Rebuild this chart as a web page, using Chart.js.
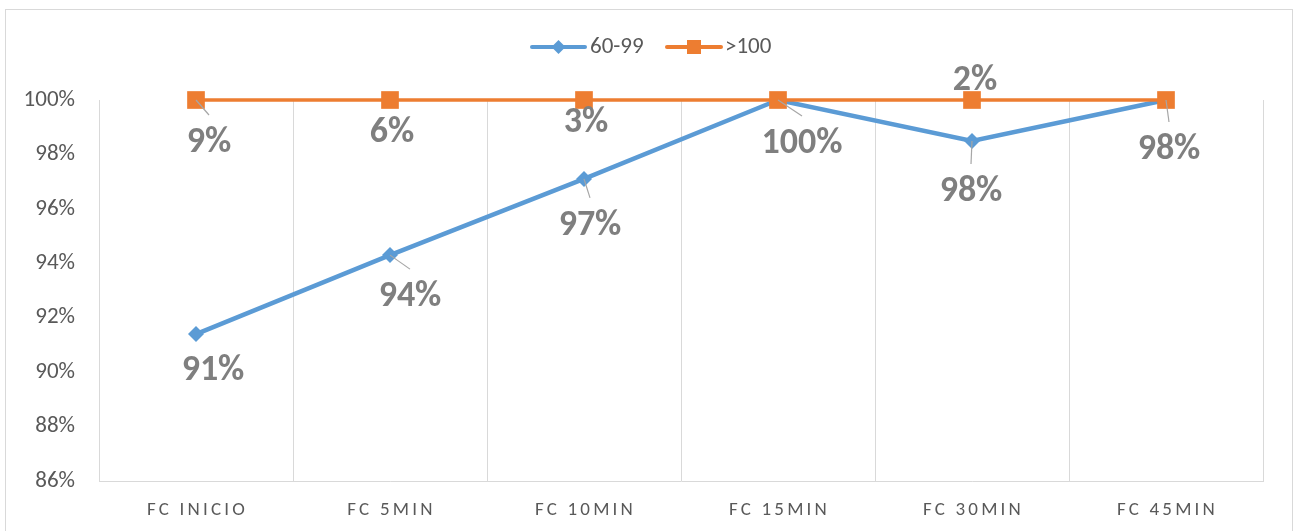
<!DOCTYPE html>
<html>
<head>
<meta charset="utf-8">
<script src="https://cdn.jsdelivr.net/npm/chart.js@4/dist/chart.umd.min.js"></script>
<style>
  html, body { margin: 0; padding: 0; background: #ffffff; }
  #wrap { width: 1295px; height: 531px; position: relative; }
</style>
</head>
<body>
<div id="wrap"><canvas id="c" width="1295" height="531"></canvas></div>
<script>
// Heart-rate groups per measurement time (raw shares, percent)
const categories = ['FC INICIO', 'FC 5MIN', 'FC 10MIN', 'FC 15MIN', 'FC 30MIN', 'FC 45MIN'];
const range60to99 = [91.4, 94.3, 97.1, 100, 98, 98];
const over100 = [8.6, 5.7, 2.9, 0, 1.5, 0];
const yTickValues = [86, 88, 90, 92, 94, 96, 98, 100];

// 100% stacked: each series is plotted as its cumulative share of the column total
const totals = range60to99.map((v, i) => v + over100[i]);
const cum60to99 = range60to99.map((v, i) => v / totals[i] * 100);
const cumOver100 = range60to99.map((v, i) => (v + over100[i]) / totals[i] * 100);

// label placement relative to each point (dx, dy in px)
const labelOffsets = {
  blue:   [[17, 37], [20, 42], [6, 47], [24, 44], [-1, 51], [3, 50]],
  orange: [[13, 43], [2, 33], [2, 23], [0, 0], [3, -19], [0, 0]]
};

const FONT = 'Carlito, Lato, "Open Sans", sans-serif';

const decorPlugin = {
  id: 'decor',
  beforeDraw(chart) {
    const ctx = chart.ctx;
    ctx.save();
    ctx.fillStyle = '#ffffff';
    ctx.fillRect(0, 0, chart.width, chart.height);
    ctx.strokeStyle = '#d9d9d9';
    ctx.lineWidth = 1;
    ctx.strokeRect(5.5, 9.5, 1287, 600);
    ctx.restore();
  },
  afterDraw(chart) {
    const ctx = chart.ctx;
    const xs = chart.scales.x;
    // category labels with wide letter spacing
    ctx.save();
    ctx.font = '19px ' + FONT;
    ctx.fillStyle = '#595959';
    ctx.textAlign = 'center';
    ctx.textBaseline = 'middle';
    ctx.letterSpacing = '3.2px';
    categories.forEach((c, i) => {
      ctx.fillText(c, xs.getPixelForValue(i) + 1.5, 510);
    });
    ctx.restore();

    // legend
    ctx.save();
    const ly = 47;
    const items = [
      { text: '60-99', color: '#5B9BD5', x0: 532, x1: 585, style: 'diamond', tx: 590 },
      { text: '>100', color: '#ED7D31', x0: 667, x1: 721, style: 'square', tx: 725 }
    ];
    items.forEach(it => {
      ctx.strokeStyle = it.color;
      ctx.fillStyle = it.color;
      ctx.lineWidth = 4;
      ctx.lineCap = 'round';
      ctx.beginPath();
      ctx.moveTo(it.x0, ly);
      ctx.lineTo(it.x1, ly);
      ctx.stroke();
      const mx = (it.x0 + it.x1) / 2;
      ctx.beginPath();
      if (it.style === 'diamond') {
        ctx.moveTo(mx - 7, ly); ctx.lineTo(mx, ly - 7); ctx.lineTo(mx + 7, ly); ctx.lineTo(mx, ly + 7);
        ctx.closePath();
      } else {
        ctx.rect(mx - 7, ly - 7, 14, 14);
      }
      ctx.fill();
      ctx.fillStyle = '#595959';
      ctx.font = '23px ' + FONT;
      ctx.textAlign = 'left';
      ctx.textBaseline = 'middle';
      ctx.fillText(it.text, it.tx, ly);
    });
    ctx.restore();
  },
  afterDatasetsDraw(chart) {
    const ctx = chart.ctx;
    const sets = [
      { meta: chart.getDatasetMeta(0), raw: range60to99, off: labelOffsets.blue },
      { meta: chart.getDatasetMeta(1), raw: over100, off: labelOffsets.orange }
    ];
    ctx.save();
    ctx.font = 'bold 36px ' + FONT;
    ctx.fillStyle = '#7f7f7f';
    ctx.textAlign = 'center';
    ctx.textBaseline = 'middle';
    sets.forEach(s => {
      s.meta.data.forEach((pt, i) => {
        const v = s.raw[i];
        if (!v) return;
        const lx = pt.x + s.off[i][0];
        const lyy = pt.y + s.off[i][1];
        const endY = lyy - 28;
        if (s.off[i][1] > 0 && endY - pt.y > 12) {
          ctx.save();
          ctx.strokeStyle = '#a6a6a6';
          ctx.lineWidth = 1.2;
          ctx.beginPath();
          ctx.moveTo(pt.x, pt.y);
          ctx.lineTo(lx, endY);
          ctx.stroke();
          ctx.restore();
        }
        ctx.fillText(Math.round(v) + '%', lx, lyy);
      });
    });
    ctx.restore();
  }
};

new Chart(document.getElementById('c'), {
  type: 'line',
  data: {
    labels: categories,
    datasets: [
      {
        label: '60-99',
        data: cum60to99,
        borderColor: '#5B9BD5',
        backgroundColor: '#5B9BD5',
        borderWidth: 4.5,
        pointStyle: 'rectRot',
        pointRadius: 8,
        pointBorderWidth: 0,
        tension: 0,
        clip: false,
        order: 1
      },
      {
        label: '>100',
        data: cumOver100,
        borderColor: '#ED7D31',
        backgroundColor: '#ED7D31',
        borderWidth: 3.5,
        pointStyle: 'rect',
        pointRadius: 12.5,
        pointBorderWidth: 0,
        tension: 0,
        clip: false,
        order: 0
      }
    ]
  },
  options: {
    responsive: false,
    animation: false,
    events: [],
    layout: { padding: { left: 0, top: 100, right: 32, bottom: 0 } },
    plugins: { legend: { display: false }, tooltip: { enabled: false } },
    scales: {
      x: {
        offset: true,
        grid: { display: true, offset: true, color: '#d9d9d9', lineWidth: 1, drawTicks: false },
        border: { display: true, color: '#d9d9d9', width: 1 },
        ticks: { display: false },
        afterFit(scale) { scale.height = 50; }
      },
      y: {
        min: 86,
        max: 100,
        afterBuildTicks(scale) { scale.ticks = yTickValues.map(v => ({ value: v })); },
        grid: { display: false, drawTicks: false },
        border: { display: false },
        ticks: {
          padding: 24,
          color: '#595959',
          font: { family: FONT, size: 23 },
          callback: v => v + '%'
        },
        afterFit(scale) { scale.width = 99; }
      }
    }
  },
  plugins: [decorPlugin]
});
</script>
</body>
</html>
